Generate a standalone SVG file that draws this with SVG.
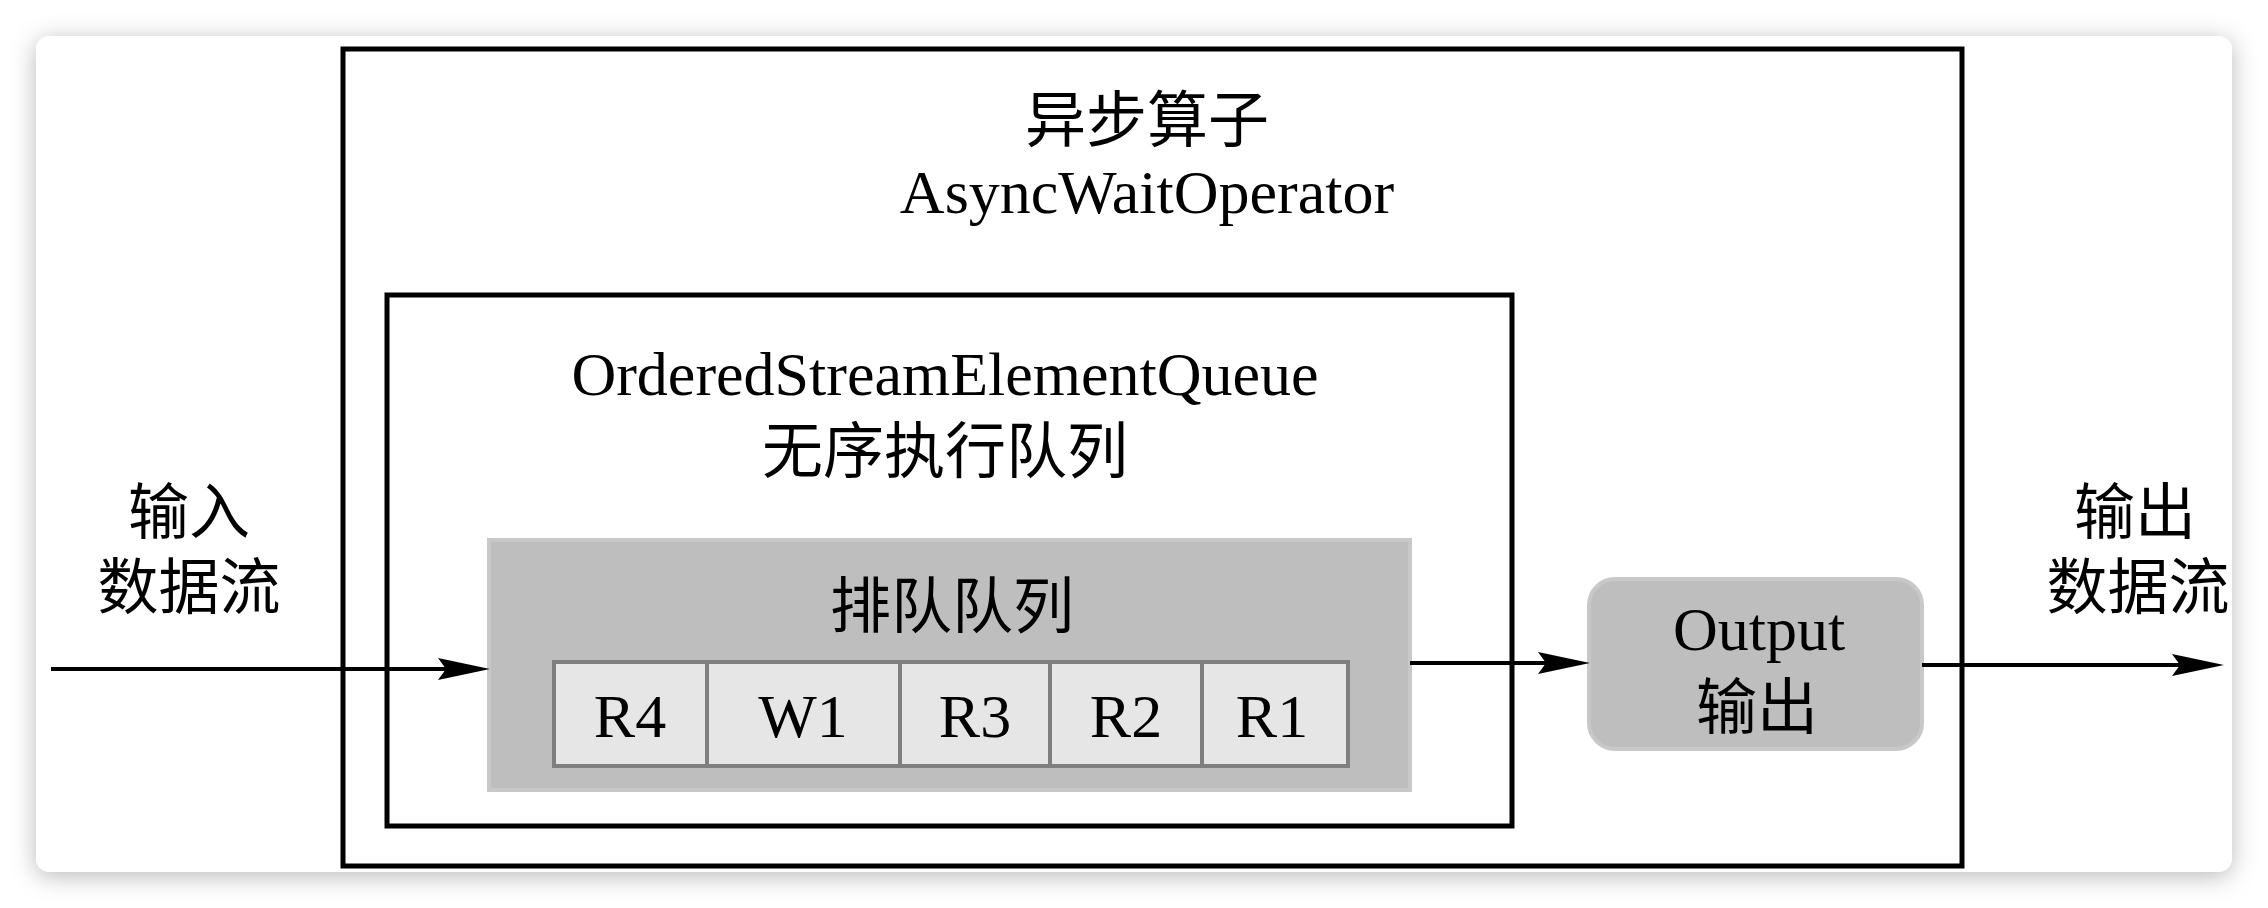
<svg xmlns="http://www.w3.org/2000/svg" width="2268" height="908" viewBox="0 0 2268 908">
  <defs>
    <filter id="shadow" x="-5%" y="-10%" width="110%" height="120%">
      <feDropShadow dx="0" dy="4" stdDeviation="12" flood-color="#000" flood-opacity="0.28"/>
    </filter>
    <marker id="arrow" viewBox="0 0 52 24" refX="40" refY="12" markerWidth="52" markerHeight="24" markerUnits="userSpaceOnUse" orient="auto">
      <path d="M0,1 L52,12 L0,23 L8,12 Z" fill="#000"/>
    </marker>
    <style>
      .box { fill: none; stroke: #000; stroke-width: 5; }
      .queue { fill: #bebebe; stroke: #c8c8c8; stroke-width: 4; }
      .cell { fill: #e6e6e6; stroke: #7f7f7f; stroke-width: 4; }
      .out { fill: #bebebe; stroke: #c8c8c8; stroke-width: 4; }
      .t { font-family: "Liberation Serif", "Noto Sans CJK SC", serif; font-size: 62px; fill: #000; text-anchor: middle; }
      .c { font-family: "Liberation Serif", "Noto Sans CJK SC", sans-serif; font-size: 61px; fill: #000; text-anchor: middle; }
      .edge { fill: none; stroke: #000; stroke-width: 4; marker-end: url(#arrow); }
    </style>
  </defs>

  <rect width="2268" height="908" fill="#ffffff"/>
  <rect id="card" x="36" y="36" width="2196" height="836" rx="14" ry="14" fill="#ffffff" filter="url(#shadow)"/>

  <g id="async-operator">
    <rect class="box" x="343" y="49" width="1619" height="817"/>
    <text class="c" x="1147" y="142">异步算子</text>
    <text class="t" x="1147" y="213">AsyncWaitOperator</text>
  </g>

  <g id="ordered-queue">
    <rect class="box" x="387" y="295" width="1125" height="531"/>
    <text class="t" x="945" y="395">OrderedStreamElementQueue</text>
    <text class="c" x="945" y="473">无序执行队列</text>
  </g>

  <g id="pending-queue">
    <rect class="queue" x="489" y="540" width="921" height="250"/>
    <text class="c" x="952" y="628">排队队列</text>
  </g>

  <g id="cell-r4">
    <rect class="cell" x="554" y="662" width="153" height="104"/>
    <text class="t" x="630" y="737">R4</text>
  </g>
  <g id="cell-w1">
    <rect class="cell" x="707" y="662" width="193" height="104"/>
    <text class="t" x="803" y="737">W1</text>
  </g>
  <g id="cell-r3">
    <rect class="cell" x="900" y="662" width="150" height="104"/>
    <text class="t" x="975" y="737">R3</text>
  </g>
  <g id="cell-r2">
    <rect class="cell" x="1050" y="662" width="152" height="104"/>
    <text class="t" x="1126" y="737">R2</text>
  </g>
  <g id="cell-r1">
    <rect class="cell" x="1202" y="662" width="146" height="104"/>
    <text class="t" x="1272" y="737">R1</text>
  </g>

  <g id="output">
    <rect class="out" x="1589" y="579" width="333" height="170" rx="26" ry="26"/>
    <text class="t" x="1759" y="650">Output</text>
    <text class="c" x="1757" y="729">输出</text>
  </g>

  <g id="input-label">
    <text class="c" x="189" y="534">输入</text>
    <text class="c" x="189" y="609">数据流</text>
  </g>

  <g id="output-label">
    <text class="c" x="2135" y="534">输出</text>
    <text class="c" x="2138" y="609">数据流</text>
  </g>

  <g id="connectors">
    <path class="edge" d="M51,669 H478"/>
    <path class="edge" d="M1410,663 H1578"/>
    <path class="edge" d="M1922,665 H2212"/>
  </g>
</svg>
